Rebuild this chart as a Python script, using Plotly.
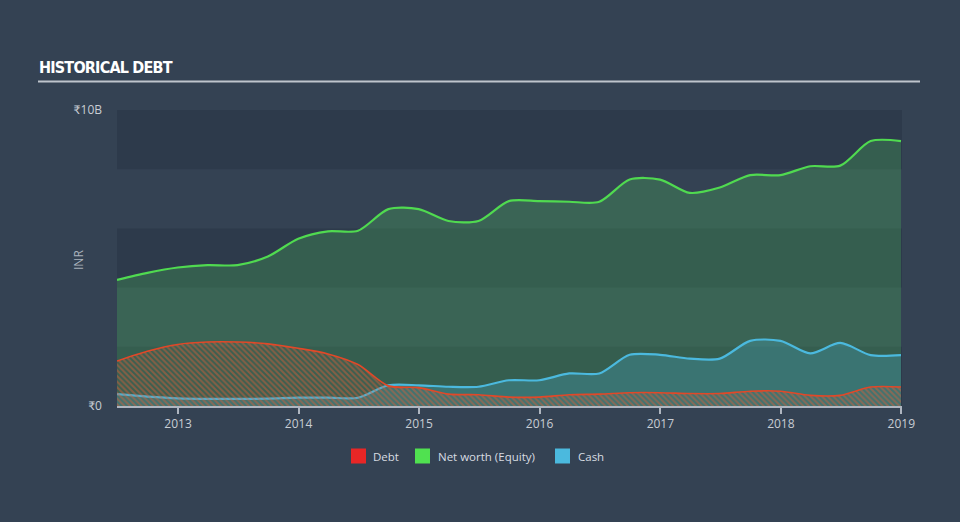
import plotly.graph_objects as go

dates = ["2012-06-30", "2012-09-30", "2012-12-31", "2013-03-31", "2013-06-30", "2013-09-30",
         "2013-12-31", "2014-03-31", "2014-06-30", "2014-09-30", "2014-12-31", "2015-03-31",
         "2015-06-30", "2015-09-30", "2015-12-31", "2016-03-31", "2016-06-30", "2016-09-30",
         "2016-12-31", "2017-03-31", "2017-06-30", "2017-09-30", "2017-12-31", "2018-03-31",
         "2018-06-30", "2018-09-30", "2018-12-31"]

equity = [4.26, 4.5, 4.68, 4.76, 4.76, 5.05, 5.65, 5.9, 5.92, 6.65, 6.65, 6.25, 6.25, 6.92,
          6.92, 6.9, 6.9, 7.65, 7.65, 7.2, 7.38, 7.8, 7.8, 8.1, 8.12, 8.95, 8.95]
debt = [1.52, 1.85, 2.08, 2.16, 2.16, 2.1, 1.95, 1.76, 1.4, 0.68, 0.62, 0.4, 0.38, 0.3,
        0.3, 0.38, 0.4, 0.45, 0.45, 0.42, 0.42, 0.5, 0.5, 0.36, 0.36, 0.64, 0.64]
cash = [0.4, 0.32, 0.26, 0.24, 0.24, 0.25, 0.28, 0.28, 0.28, 0.7, 0.7, 0.65, 0.65, 0.87,
        0.87, 1.1, 1.1, 1.73, 1.73, 1.6, 1.6, 2.2, 2.2, 1.78, 2.13, 1.72, 1.72]

year_ticks = ["2013-01-01", "2014-01-01", "2015-01-01", "2016-01-01", "2017-01-01",
              "2018-01-01", "2019-01-01"]
year_labels = ["2013", "2014", "2015", "2016", "2017", "2018", "2019"]

series_names = ["Debt", "Net worth (Equity)", "Cash"]
series_colors = ["rgb(232,38,38)", "rgb(80,225,80)", "rgb(75,185,222)"]

B = 1e9
eq = [v * B for v in equity]
db = [v * B for v in debt]
cs = [v * B for v in cash]

BG = "rgb(52,66,83)"
BAND = "rgb(45,58,75)"
FONT = "Open Sans, Lato, sans-serif"

# plot area in pixels
L, R, T, Bt = 117, 902, 110, 406
PW, PH = R - L, Bt - T


def px(xp):
    return (xp - L) / PW


def py(yp):
    return (Bt - yp) / PH


fig = go.Figure()

fig.add_trace(go.Scatter(x=dates, y=eq, mode="lines",
                         line=dict(color="rgb(80,218,80)", width=2.2, shape="spline", smoothing=0.8),
                         fill="tozeroy", fillcolor="rgba(80,210,90,0.24)", showlegend=False, hoverinfo="skip"))
fig.add_trace(go.Scatter(x=dates, y=cs, mode="lines",
                         line=dict(color="rgb(75,185,222)", width=2.2, shape="spline", smoothing=0.8),
                         fill="tozeroy", fillcolor="rgba(75,185,220,0.25)", showlegend=False, hoverinfo="skip"))
fig.add_trace(go.Scatter(x=dates, y=db, mode="lines",
                         line=dict(color="rgb(226,72,40)", width=1.6, shape="spline", smoothing=0.8),
                         fill="tozeroy", fillcolor="rgba(0,0,0,0)",
                         fillpattern=dict(shape="\\", fgcolor="rgba(225,92,55,0.9)", bgcolor="rgba(110,110,90,0.1)",
                                          size=4, solidity=0.5),
                         showlegend=False, hoverinfo="skip"))

shapes = []
for lo, hi in [(0, 2), (4, 6), (8, 10)]:
    shapes.append(dict(type="rect", xref="paper", yref="y", x0=0, x1=1, y0=lo * B, y1=hi * B,
                       fillcolor=BAND, line=dict(width=0), layer="below"))
# title underline
shapes.append(dict(type="line", xref="paper", yref="paper", x0=px(38), x1=px(920),
                   y0=py(81.5), y1=py(81.5), line=dict(color="rgb(190,196,204)", width=2)))

# manual legend
leg_sq_x = [351, 415, 555]
leg_tx_x = [371, 436, 576]
annotations = []
for name, col, sx, tx in zip(series_names, series_colors, leg_sq_x, leg_tx_x):
    shapes.append(dict(type="rect", xref="paper", yref="paper", x0=px(sx), x1=px(sx + 15),
                       y0=py(463.5), y1=py(448.5), fillcolor=col, line=dict(width=0)))
    annotations.append(dict(text=name, xref="paper", yref="paper", x=px(tx), y=py(456),
                            xanchor="left", yanchor="middle", showarrow=False,
                            font=dict(family=FONT, size=11.5, color="rgb(215,220,226)")))

annotations.append(dict(
    text='<span style="font-family:DejaVu Sans;font-stretch:condensed;font-weight:bold;letter-spacing:-0.8px">HISTORICAL DEBT</span>',
    xref="paper", yref="paper", x=px(37), y=py(67.5), xanchor="left", yanchor="middle", showarrow=False,
    font=dict(size=16, color="white")))
annotations.append(dict(text="INR", xref="paper", yref="paper", x=px(78), y=py(260), textangle=-90,
                        xanchor="center", yanchor="middle", showarrow=False,
                        font=dict(family=FONT, size=12, color="rgb(170,178,188)")))

fig.update_layout(
    width=960, height=522,
    paper_bgcolor=BG, plot_bgcolor=BG,
    margin=dict(l=L, r=960 - R, t=T, b=522 - Bt),
    shapes=shapes,
    annotations=annotations,
    font=dict(family=FONT, color="rgb(200,205,212)", size=12),
    showlegend=False,
    xaxis=dict(type="date", range=["2012-06-30", "2019-01-03"], tickvals=year_ticks, ticktext=year_labels,
               showgrid=False, zeroline=False, showline=True, linecolor="rgb(175,182,192)", linewidth=1.5,
               ticks="outside", ticklen=6, tickcolor="rgb(175,182,192)", tickwidth=1.5,
               tickfont=dict(size=12, color="rgb(200,205,212)"), fixedrange=True),
    yaxis=dict(range=[0, 10 * B], tickvals=[0, 10 * B], ticktext=["₹0", "₹10B"],
               showgrid=False, zeroline=False, showline=False, ticks="", ticklabelstandoff=14,
               tickfont=dict(size=12, color="rgb(200,205,212)"), fixedrange=True),
)

fig.write_html("out.html")
